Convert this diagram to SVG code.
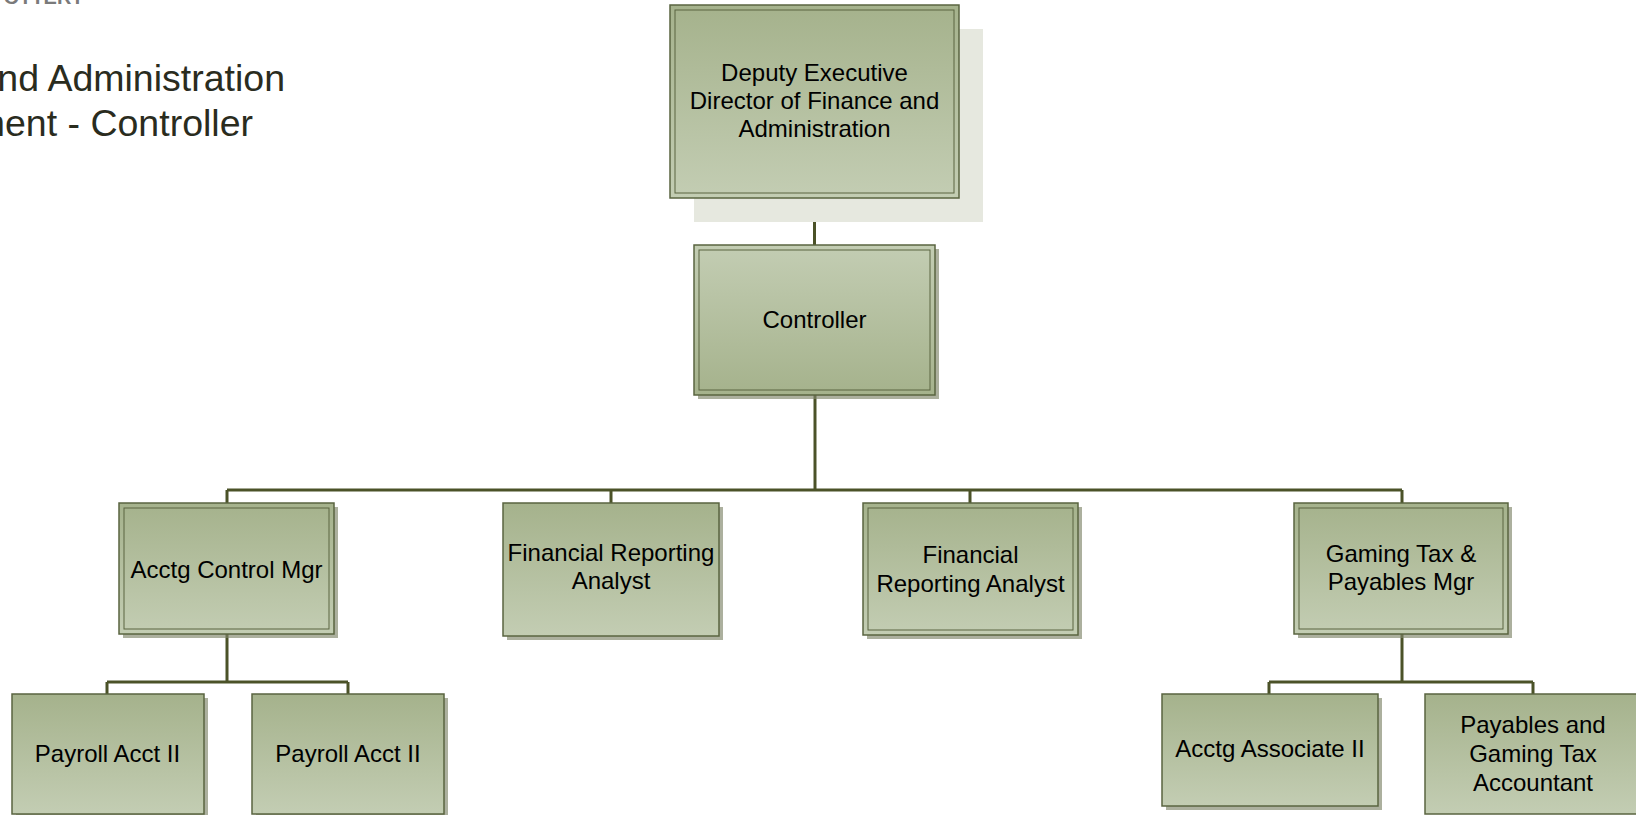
<svg xmlns="http://www.w3.org/2000/svg" width="1636" height="815" viewBox="0 0 1636 815">
<defs>
<linearGradient id="gDown" x1="0" y1="0" x2="0" y2="1">
<stop offset="0" stop-color="#a5b28c"/>
<stop offset="1" stop-color="#c3cdb3"/>
</linearGradient>
<linearGradient id="gUp" x1="0" y1="0" x2="0" y2="1">
<stop offset="0" stop-color="#c3cdb3"/>
<stop offset="1" stop-color="#a5b28c"/>
</linearGradient>
</defs>
<style>
.box{fill:url(#gDown);stroke:#5a6440;stroke-width:1.5}
.boxUp{fill:url(#gUp);stroke:#5a6440;stroke-width:1.5}
.inner{fill:none;stroke:#5a6440;stroke-width:1}
.shadow{fill:#7f866a;opacity:0.65}
.lbl{font-family:"Liberation Sans",Arial,sans-serif;font-size:24px;fill:#000;text-anchor:middle}
.title{font-family:"Liberation Sans",Arial,sans-serif;font-size:37.5px;fill:#2a2c1e;text-anchor:end}
.conn{stroke:#4b5228;stroke-width:3;fill:none}
</style>
<rect width="1636" height="815" fill="#ffffff"/>
<g id="header">
<text x="84" y="4" style="font-family:'Liberation Sans',Arial,sans-serif;font-size:20px;font-weight:bold;fill:#7a7a7a;text-anchor:end">OTTERY</text>
<text class="title" x="285" y="91">nd Administration</text>
<text class="title" x="253" y="136">ment - Controller</text>
</g>
<g id="connectors">
<path class="conn" d="M814.5 198V245"/>
<path class="conn" d="M815 395V490"/>
<path class="conn" d="M227 490H1402"/>
<path class="conn" d="M227 490V503M611 490V503M970 490V503M1402 490V503"/>
<path class="conn" d="M227 634V682M107 682H348M107 682V694M348 682V694"/>
<path class="conn" d="M1402 634V682M1269 682H1533M1269 682V694M1533 682V694"/>
</g>
<g id="deputy">
<rect x="694" y="29" width="289" height="193" fill="#e6e8df"/>
<rect class="box" x="670" y="5" width="289" height="193"/>
<rect class="inner" x="675" y="10" width="279" height="183"/>
<text class="lbl" x="814.5" y="81">Deputy Executive</text>
<text class="lbl" x="814.5" y="109">Director of Finance and</text>
<text class="lbl" x="814.5" y="137">Administration</text>
</g>
<g id="controller">
<rect class="shadow" x="698" y="249" width="241" height="150"/>
<rect class="boxUp" x="694" y="245" width="241" height="150"/>
<rect class="inner" x="699" y="250" width="231" height="140"/>
<text class="lbl" x="814.5" y="328">Controller</text>
</g>
<g id="acctg-control-mgr">
<rect class="shadow" x="123" y="507" width="215" height="131"/>
<rect class="box" x="119" y="503" width="215" height="131"/>
<rect class="inner" x="124" y="508" width="205" height="121"/>
<text class="lbl" x="226.5" y="578">Acctg Control Mgr</text>
</g>
<g id="fin-reporting-analyst-1">
<rect class="shadow" x="507" y="507" width="216" height="133"/>
<rect class="box" x="503" y="503" width="216" height="133"/>
<text class="lbl" x="611" y="561">Financial Reporting</text>
<text class="lbl" x="611" y="589">Analyst</text>
</g>
<g id="fin-reporting-analyst-2">
<rect class="shadow" x="867" y="507" width="215" height="132"/>
<rect class="box" x="863" y="503" width="215" height="132"/>
<rect class="inner" x="868" y="508" width="205" height="122"/>
<text class="lbl" x="970.5" y="563">Financial</text>
<text class="lbl" x="970.5" y="592">Reporting Analyst</text>
</g>
<g id="gaming-tax-mgr">
<rect class="shadow" x="1298" y="507" width="214" height="131"/>
<rect class="box" x="1294" y="503" width="214" height="131"/>
<rect class="inner" x="1299" y="508" width="204" height="121"/>
<text class="lbl" x="1401" y="562">Gaming Tax &amp;</text>
<text class="lbl" x="1401" y="590">Payables Mgr</text>
</g>
<g id="payroll-1">
<rect class="shadow" x="16" y="698" width="192" height="125"/>
<rect class="box" x="12" y="694" width="192" height="120"/>
<text class="lbl" x="107.5" y="762">Payroll Acct II</text>
</g>
<g id="payroll-2">
<rect class="shadow" x="256" y="698" width="192" height="125"/>
<rect class="box" x="252" y="694" width="192" height="120"/>
<text class="lbl" x="348" y="762">Payroll Acct II</text>
</g>
<g id="acctg-associate">
<rect class="shadow" x="1166" y="698" width="216" height="112"/>
<rect class="box" x="1162" y="694" width="216" height="112"/>
<text class="lbl" x="1270" y="757">Acctg Associate II</text>
</g>
<g id="payables-accountant">
<rect class="box" x="1425" y="694" width="220" height="120"/>
<text class="lbl" x="1533" y="733">Payables and</text>
<text class="lbl" x="1533" y="762">Gaming Tax</text>
<text class="lbl" x="1533" y="791">Accountant</text>
</g>
</svg>
